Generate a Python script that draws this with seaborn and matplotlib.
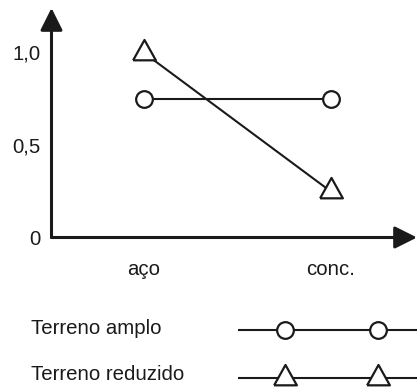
import numpy as np
import pandas as pd
import matplotlib
matplotlib.use("Agg")
import matplotlib.pyplot as plt
import seaborn as sns

# dados
categorias = ["aço", "conc."]
terreno_amplo = [0.75, 0.75]
terreno_reduzido = [1.0, 0.25]
series = ["Terreno amplo", "Terreno reduzido"]
yticks = [0, 0.5, 1.0]
ytick_labels = ["0", "0,5", "1,0"]

df = pd.DataFrame({
    "material": categorias * 2,
    "pos": [0, 1] * 2,
    "valor": terreno_amplo + terreno_reduzido,
    "serie": [series[0]] * 2 + [series[1]] * 2,
})

sns.set_theme(style="white")
plt.rcParams["font.family"] = ["Liberation Sans", "DejaVu Sans"]

# triangulo com centroide na origem
tri = [(-1.0, -0.6), (1.0, -0.6), (0.0, 1.19), (-1.0, -0.6)]
marcadores = {series[0]: "o", series[1]: tri}
tamanhos = {series[0]: 12, series[1]: 19.5}
fs = 14.7

W, H = 417, 390
fig = plt.figure(figsize=(W / 100, H / 100), dpi=100)
x0, y0 = 51.5, 237.5
ax = fig.add_axes([x0 / W, (H - y0) / H, (W - x0) / W, (y0 - 8) / H])

for s in series:
    sns.lineplot(data=df[df.serie == s], x="pos", y="valor", ax=ax,
                 color="#1a1a1a", lw=1.5, marker=marcadores[s], ms=tamanhos[s],
                 mfc="white", mec="#1a1a1a", mew=1.6, legend=False)

px = 187.0  # pixels por categoria
ax.set_xlim((x0 - 143.5) / px, (W - 143.5) / px)
ax.set_ylim(0, (y0 - 8) / 185.0)
ax.set_xticks(range(len(categorias)))
ax.set_xticklabels(categorias)
ax.set_yticks(yticks)
ax.set_yticklabels(ytick_labels)
ax.tick_params(length=0, labelsize=fs, colors="#1a1a1a")
ax.tick_params(axis="y", pad=8)
ax.tick_params(axis="x", pad=16.5)
ax.set_xlabel("")
ax.set_ylabel("")
for side in ["top", "right", "left", "bottom"]:
    ax.spines[side].set_visible(False)
ax.patch.set_alpha(0)

seta = dict(arrowstyle="-|>,head_length=0.68,head_width=0.34", color="#1a1a1a",
            lw=2.2, mutation_scale=20, shrinkA=0, shrinkB=0)
ax.annotate("", xy=(0, 1), xytext=(0, 0), xycoords="axes fraction", arrowprops=seta)
ax.annotate("", xy=(1, 0), xytext=(0, 0), xycoords="axes fraction", arrowprops=seta)

# legenda
leg = fig.add_axes([0, 0, 1, 1])
leg.set_xlim(0, W)
leg.set_ylim(H, 0)
leg.axis("off")
leg.patch.set_alpha(0)
for i, s in enumerate(series):
    yy = 330 + 48 * i
    leg.text(31, yy - 2 - 2 * i, s, fontsize=fs, va="center", ha="left", color="#1a1a1a")
    leg.plot([238, 417], [yy, yy], color="#1a1a1a", lw=1.5, solid_capstyle="butt")
    leg.plot([285, 378], [yy, yy], ls="none", marker=marcadores[s], ms=tamanhos[s],
             mfc="white", mec="#1a1a1a", mew=1.6)

fig.savefig("out.png", dpi=100, facecolor="white")
